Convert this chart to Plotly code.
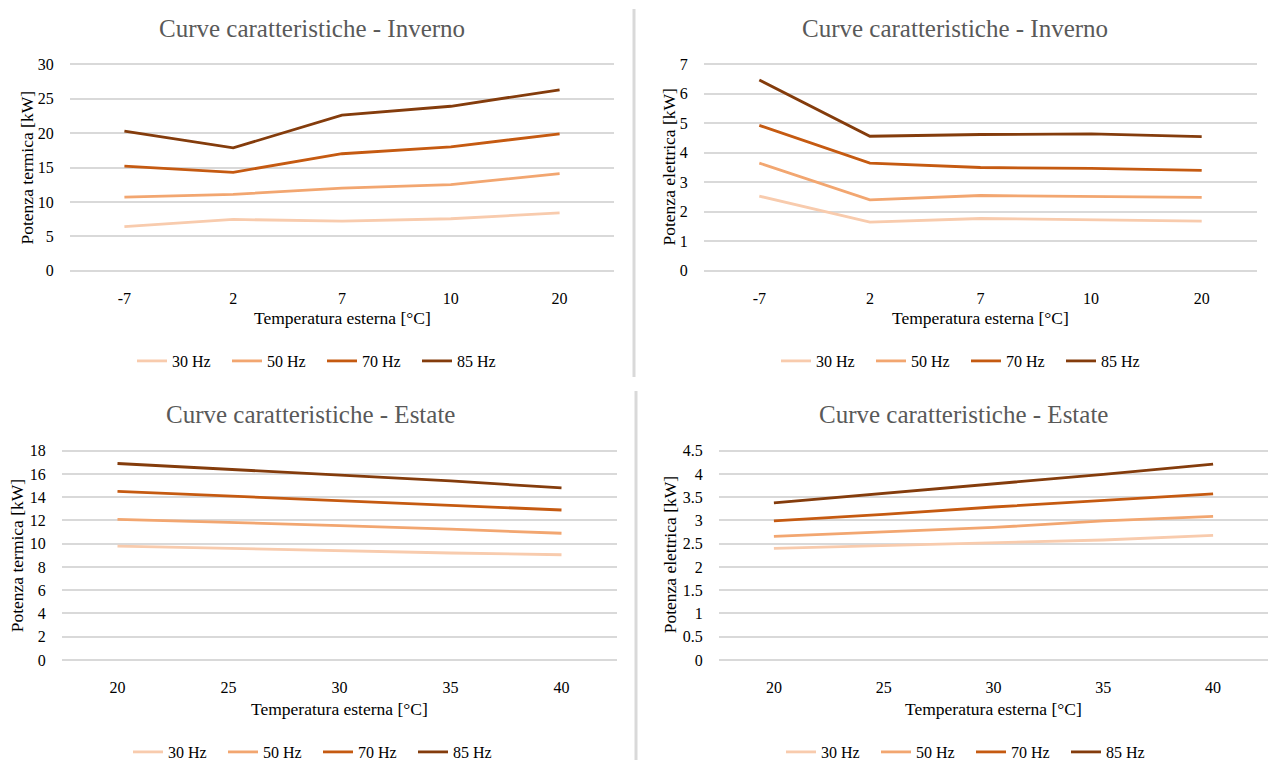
import plotly.graph_objects as go

# Categories (outdoor temperature, °C)
cat_inverno = ["-7", "2", "7", "10", "20"]
cat_estate = ["20", "25", "30", "35", "40"]
freq_labels = ["30 Hz", "50 Hz", "70 Hz", "85 Hz"]

# Winter - thermal power [kW]
term_inv_30 = [6.4, 7.45, 7.2, 7.55, 8.4]
term_inv_50 = [10.7, 11.1, 12.0, 12.5, 14.1]
term_inv_70 = [15.2, 14.3, 17.0, 18.0, 19.9]
term_inv_85 = [20.3, 17.85, 22.6, 23.9, 26.3]

# Winter - electric power [kW]
el_inv_30 = [2.53, 1.65, 1.77, 1.73, 1.68]
el_inv_50 = [3.65, 2.40, 2.55, 2.51, 2.49]
el_inv_70 = [4.93, 3.65, 3.50, 3.47, 3.40]
el_inv_85 = [6.47, 4.56, 4.62, 4.64, 4.55]

# Summer - thermal power [kW]
term_est_30 = [9.8, 9.6, 9.35, 9.2, 9.05]
term_est_50 = [12.1, 11.85, 11.56, 11.25, 10.9]
term_est_70 = [14.5, 14.1, 13.7, 13.3, 12.9]
term_est_85 = [16.9, 16.4, 15.9, 15.4, 14.8]

# Summer - electric power [kW]
el_est_30 = [2.40, 2.46, 2.51, 2.58, 2.68]
el_est_50 = [2.66, 2.75, 2.85, 2.99, 3.09]
el_est_70 = [2.99, 3.13, 3.29, 3.43, 3.57]
el_est_85 = [3.38, 3.58, 3.78, 3.99, 4.21]

line_colors = ["#F8CBAD", "#F2A670", "#C55A11", "#843C0C"]

W, H = 1268, 760
FONT = "Liberation Serif, Times New Roman, serif"
PAD = 2  # px of extra range so the outer grid lines stay visible


def fx(px):
    return px / W


def fy(py):
    return 1 - py / H


panels = [
    dict(xa="x", ya="y", leg="legend", cats=cat_inverno,
         series=[term_inv_30, term_inv_50, term_inv_70, term_inv_85],
         yr=[0, 30], dt=5, xd=(70, 614), yd=(64.3, 270.7),
         title="Curve caratteristiche - Inverno", ytitle="Potenza termica [kW]",
         tpos=(312, 28.5), ytx=26, xty=318, lpos=(322, 361)),
    dict(xa="x2", ya="y2", leg="legend2", cats=cat_inverno,
         series=[el_inv_30, el_inv_50, el_inv_70, el_inv_85],
         yr=[0, 7], dt=1, xd=(704, 1257), yd=(64.3, 270.7),
         title="Curve caratteristiche - Inverno", ytitle="Potenza elettrica [kW]",
         tpos=(955, 28.5), ytx=668, xty=318, lpos=(966, 361)),
    dict(xa="x3", ya="y3", leg="legend3", cats=cat_estate,
         series=[term_est_30, term_est_50, term_est_70, term_est_85],
         yr=[0, 18], dt=2, xd=(62, 617), yd=(450.7, 660),
         title="Curve caratteristiche - Estate", ytitle="Potenza termica [kW]",
         tpos=(310, 414), ytx=17, xty=709, lpos=(318, 752)),
    dict(xa="x4", ya="y4", leg="legend4", cats=cat_estate,
         series=[el_est_30, el_est_50, el_est_70, el_est_85],
         yr=[0, 4.5], dt=0.5, xd=(719, 1268), yd=(450.7, 660),
         title="Curve caratteristiche - Estate", ytitle="Potenza elettrica [kW]",
         tpos=(963, 414), ytx=670, xty=709, lpos=(971, 752)),
]

fig = go.Figure()
layout = dict(
    width=W, height=H,
    margin=dict(l=0, r=0, t=0, b=0, autoexpand=False),
    paper_bgcolor="white", plot_bgcolor="white",
    font=dict(family=FONT, color="#000000"),
    hovermode=False,
    annotations=[], shapes=[],
)

for p in panels:
    for name, vals, col in zip(freq_labels, p["series"], line_colors):
        fig.add_trace(go.Scatter(
            x=p["cats"], y=vals, name=name, mode="lines",
            line=dict(color=col, width=2.8),
            xaxis=p["xa"], yaxis=p["ya"], legend=p["leg"],
        ))
    xkey = "xaxis" if p["xa"] == "x" else "xaxis" + p["xa"][1:]
    ykey = "yaxis" if p["ya"] == "y" else "yaxis" + p["ya"][1:]
    top_px, bot_px = p["yd"]
    span = p["yr"][1] - p["yr"][0]
    pad_val = span * PAD / (bot_px - top_px)
    layout[xkey] = dict(
        domain=[fx(p["xd"][0]), fx(p["xd"][1])], anchor=p["ya"],
        type="category", range=[-0.5, 4.5],
        showgrid=False, zeroline=False, showline=False,
        ticks="outside", ticklen=11, tickcolor="rgba(0,0,0,0)",
        tickfont=dict(size=16, family=FONT, color="#000000"),
    )
    layout[ykey] = dict(
        domain=[fy(bot_px + PAD), fy(top_px - PAD)], anchor=p["xa"],
        range=[p["yr"][0] - pad_val, p["yr"][1] + pad_val],
        dtick=p["dt"], tick0=0,
        showgrid=True, gridcolor="#D9D9D9", gridwidth=1.6,
        zeroline=False, showline=False,
        ticks="outside", ticklen=12, tickcolor="rgba(0,0,0,0)",
        tickfont=dict(size=16, family=FONT, color="#000000"),
    )
    layout[p["leg"]] = dict(
        orientation="h", x=fx(p["lpos"][0]), y=fy(p["lpos"][1]),
        xanchor="center", yanchor="middle",
        font=dict(size=16, family=FONT, color="#000000"),
        bgcolor="rgba(0,0,0,0)", itemwidth=30,
        entrywidth=50, entrywidthmode="pixels",
        traceorder="normal",
    )
    layout["annotations"].append(dict(
        text=p["title"], x=fx(p["tpos"][0]), y=fy(p["tpos"][1]),
        xref="paper", yref="paper", xanchor="center", yanchor="middle",
        showarrow=False, font=dict(size=25, family=FONT, color="#595959"),
    ))
    layout["annotations"].append(dict(
        text=p["ytitle"], x=fx(p["ytx"]), y=fy((top_px + bot_px) / 2),
        xref="paper", yref="paper", xanchor="center", yanchor="middle",
        textangle=-90, showarrow=False,
        font=dict(size=17.5, family=FONT, color="#000000"),
    ))
    layout["annotations"].append(dict(
        text="Temperatura esterna [°C]",
        x=fx((p["xd"][0] + p["xd"][1]) / 2), y=fy(p["xty"]),
        xref="paper", yref="paper", xanchor="center", yanchor="middle",
        showarrow=False, font=dict(size=17.5, family=FONT, color="#000000"),
    ))

# vertical separators between the left and right charts
layout["shapes"] = [
    dict(type="line", xref="paper", yref="paper",
         x0=fx(634), x1=fx(634), y0=fy(9), y1=fy(377),
         line=dict(color="#D9D9D9", width=3)),
    dict(type="line", xref="paper", yref="paper",
         x0=fx(636), x1=fx(636), y0=fy(391), y1=fy(760),
         line=dict(color="#D9D9D9", width=3)),
]

fig.update_layout(**layout)
fig.write_html("out.html")
